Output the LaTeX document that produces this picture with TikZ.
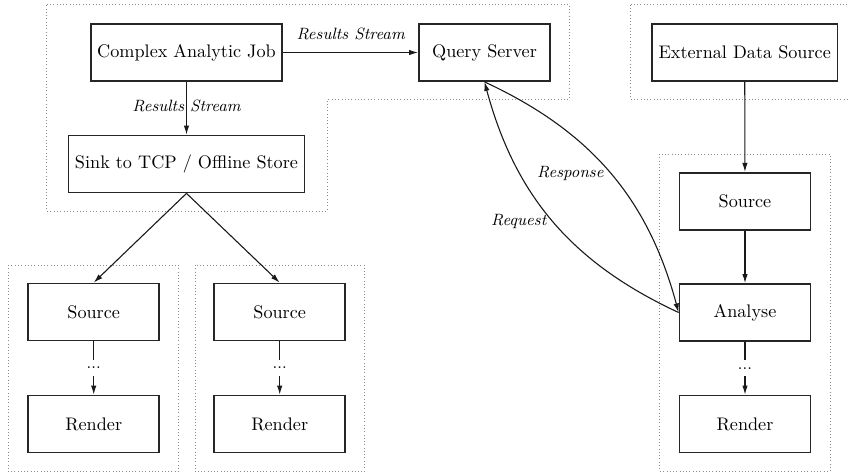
\documentclass[tikz,border=0pt]{standalone}
\usetikzlibrary{arrows.meta}
\begin{document}
\begin{tikzpicture}[x=0.55pt,y=-0.55pt,
  stage/.style={draw=black!85,line width=1pt,minimum width=72pt,minimum height=31.3pt,
    inner sep=3.6pt,font=\normalsize},
  region/.style={draw=black!45,line width=0.45pt,dash pattern=on 0.45pt off 1.35pt},
  flow/.style={draw=black!90,semithick,-{Latex[length=5pt,width=3pt]}},
  plainflow/.style={draw=black!90,semithick},
  lbl/.style={font=\small\itshape},
  gapdots/.style={inner sep=3.8pt,font=\small}]
\useasboundingbox (0,0) rectangle (848,475);

% grouping regions
\draw[region] (46.7,4.7) -- (569.3,4.7) -- (569.3,99.5) -- (327,99.5) -- (327,211) -- (46.7,211) -- cycle;
\draw[region] (630.7,4.7) rectangle (870,99.5);
\draw[region] (659.5,154) rectangle (830,471);
\draw[region] (8.3,265) rectangle (178.3,471.7);
\draw[region] (195,265) rectangle (364.3,471.7);

% processing stages
\node[stage] (caj) at (186.5,52.5) {Complex Analytic Job};
\node[stage] (sink) at (186.5,164) {Sink to TCP / Offline Store};
\node[stage] (qs) at (484.5,52.5) {Query Server};
\node[stage] (eds) at (744.7,52.5) {External Data Source};
\node[stage] (srcR) at (745,201.3) {Source};
\node[stage] (ana) at (745,312.5) {Analyse};
\node[stage] (renR) at (745,424) {Render};
\node[stage] (srcA) at (93.7,312) {Source};
\node[stage] (renA) at (93.7,424) {Render};
\node[stage] (srcB) at (279.7,312) {Source};
\node[stage] (renB) at (279.7,424) {Render};

% elided intermediate steps
\node[gapdots] (dotsA) at (93.7,368) {...};
\node[gapdots] (dotsB) at (279.7,368) {...};
\node[gapdots] (dotsR) at (745,368.3) {...};

% connectors
\draw[flow] (caj.east) -- node[lbl,above=3.4pt] {Results Stream} (qs.west);
\draw[flow] (caj.south) -- node[lbl,pos=0.45] {Results Stream} (sink.north);
\draw[flow] (sink.south) -- (srcA.north);
\draw[flow] (sink.south) -- (srcB.north);
\draw[plainflow] (srcA) -- (dotsA);
\draw[flow] (dotsA) -- (renA);
\draw[plainflow] (srcB) -- (dotsB);
\draw[flow] (dotsB) -- (renB);
\draw[flow] (eds) -- (srcR);
\draw[flow] (srcR) -- (ana);
\draw[plainflow] (ana) -- (dotsR);
\draw[flow] (dotsR) -- (renR);
\draw[flow] (ana.west) to[bend left=25] node[lbl,left] {Request} (qs.south);
\draw[flow] (qs.south) to[bend left=25] node[lbl,left] {Response} (ana.west);
\end{tikzpicture}
\end{document}
